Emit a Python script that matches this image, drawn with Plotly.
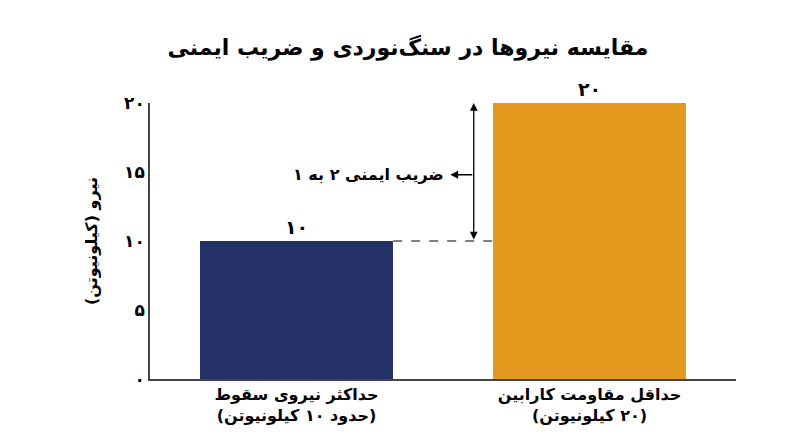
import plotly.graph_objects as go

RLE, PDF = "\u202b", "\u202c"

categories = ["حداکثر نیروی سقوط<br>(حدود ۱۰ کیلونیوتن)", "حداقل مقاومت کارابین<br>(۲۰ کیلونیوتن)"]
values = [10, 20]
value_labels = ["۱۰", "۲۰"]
tick_vals = [0, 5, 10, 15, 20]
tick_text = ["۰", "۵", "۱۰", "۱۵", "۲۰"]
colors = ["#253268", "#E39A1E"]

font = "DejaVu Sans"
x = [0, 1]


def rtl(s):
    # wrap every line in a right-to-left embedding so parens and digits sit right
    return "<br>".join("<b>" + RLE + part + PDF + "</b>" for part in s.split("<br>"))


fig = go.Figure()
fig.add_trace(go.Bar(
    x=x, y=values, width=0.66, marker=dict(color=colors, line=dict(width=0)),
    text=["<b>" + v + "</b>" for v in value_labels], textposition="outside", cliponaxis=False,
    textfont=dict(family=font, size=19, color="black"), hoverinfo="skip"
))

# dashed reference line at the lower bar's height
fig.add_shape(type="line", x0=0.33, x1=0.67, y0=values[0], y1=values[0],
              line=dict(color="black", width=1, dash="dash"))
# double arrow between 10 and 20
fig.add_annotation(x=0.605, y=values[1], ax=0.605, ay=values[0], xref="x", yref="y",
                   axref="x", ayref="y", text="", showarrow=True, arrowhead=2,
                   arrowside="end+start", arrowwidth=1.3, arrowsize=1.2, arrowcolor="black")
fig.add_annotation(x=0.525, y=14.8, ax=0.605, ay=14.8, xref="x", yref="y",
                   axref="x", ayref="y", text="", showarrow=True, arrowhead=2,
                   arrowwidth=1.3, arrowsize=1.2, arrowcolor="black")
fig.add_annotation(x=0.51, y=14.8, xref="x", yref="y", xanchor="right",
                   text=rtl("ضریب ایمنی ۲ به ۱"), showarrow=False,
                   font=dict(family=font, size=16, color="black"))

fig.update_layout(
    width=800, height=447, plot_bgcolor="white", paper_bgcolor="white",
    margin=dict(l=142, r=72, t=95, b=76),
    title=dict(text=rtl("مقایسه نیروها در سنگ‌نوردی و ضریب ایمنی"), x=0.5, y=0.93,
               xanchor="center", font=dict(family=font, size=22, color="black")),
    showlegend=False, bargap=0,
    xaxis=dict(range=[-0.5, 1.5], tickvals=x, ticktext=[rtl(c) for c in categories],
               showline=True, linecolor="#444", linewidth=1.5, showgrid=False, ticks="",
               tickfont=dict(family=font, size=16, color="black")),
    yaxis=dict(range=[0, 20], tickvals=tick_vals, ticktext=["<b>" + t + "</b>" for t in tick_text],
               showline=True, linecolor="#444", linewidth=1.5, showgrid=False, zeroline=False, ticks="",
               ticklen=0, tickfont=dict(family=font, size=17, color="black"),
               title=dict(text=rtl("نیرو (کیلونیوتن)"), standoff=22,
                          font=dict(family=font, size=16, color="black"))),
)

fig.write_html("out.html")
